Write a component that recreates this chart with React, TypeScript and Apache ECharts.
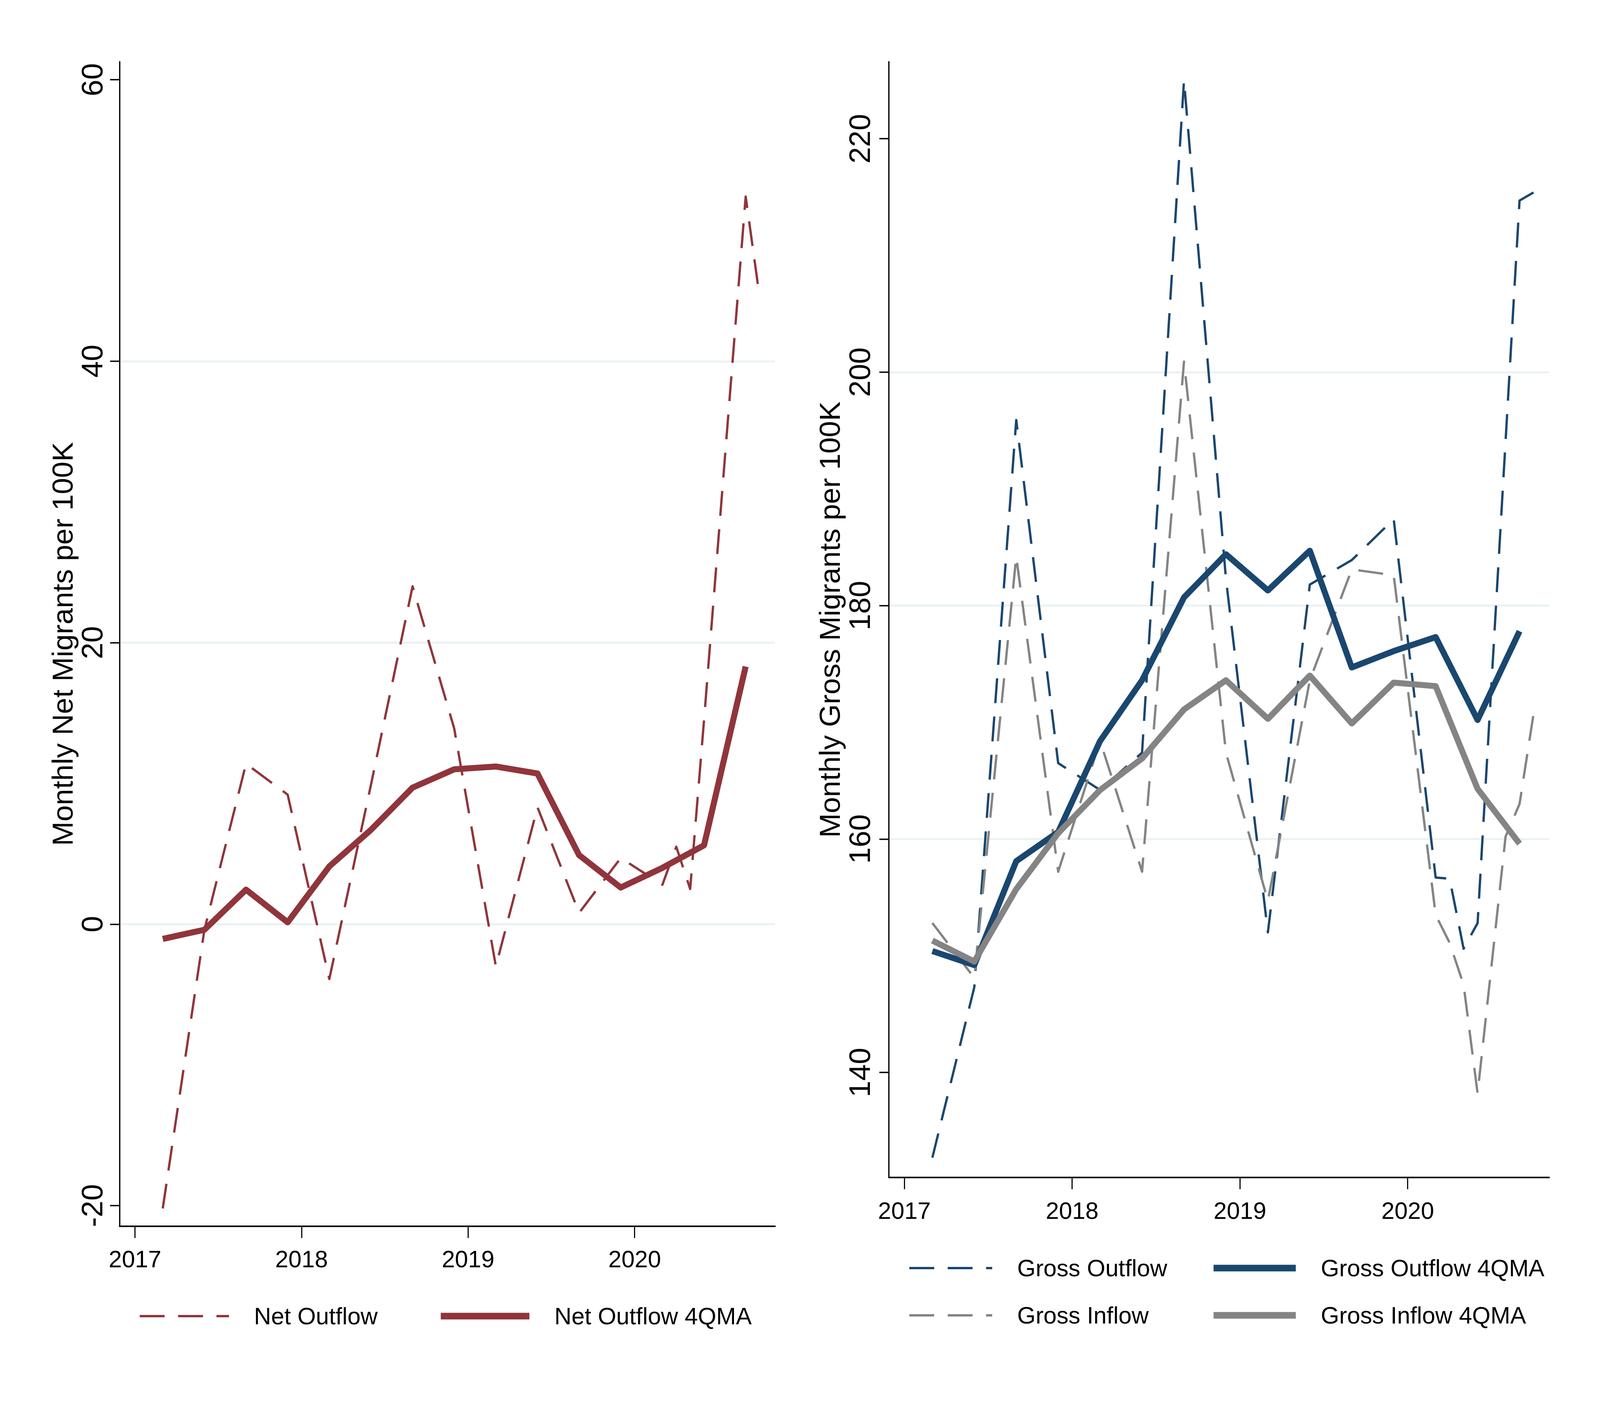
import React, { useEffect, useRef } from "react";
import * as echarts from "echarts";

// ---------- data (dates as "YYYY-MM", month of observation) ----------
const Q_DATES = [
  "2017-03", "2017-06", "2017-09", "2017-12",
  "2018-03", "2018-06", "2018-09", "2018-12",
  "2019-03", "2019-06", "2019-09", "2019-12",
];

const NET_DATES = [...Q_DATES, "2020-03", "2020-04", "2020-05", "2020-06", "2020-09", "2020-10"];
const NET_OUTFLOW = [-20.2, -0.4, 11.4, 9.2, -3.9, 9.9, 24.0, 13.9, -3.0, 8.3, 0.8, 4.7, 2.8, 5.5, 2.5, 14.5, 51.7, 44.6];

const NET_MA_DATES = [...Q_DATES, "2020-03", "2020-06", "2020-09"];
const NET_OUTFLOW_4QMA = [-1.05, -0.4, 2.45, 0.13, 4.1, 6.7, 9.7, 11.0, 11.2, 10.7, 4.9, 2.6, 4.0, 5.6, 18.3];

const GOUT_DATES = [...Q_DATES, "2020-03", "2020-04", "2020-05", "2020-06", "2020-09", "2020-10"];
const GROSS_OUTFLOW = [132.7, 147.3, 195.9, 166.5, 164.2, 167.4, 225.0, 182.3, 152.0, 181.8, 183.9, 187.4, 156.7, 156.6, 150.6, 152.8, 214.7, 215.4];

const GIN_DATES = [...Q_DATES, "2020-03", "2020-04", "2020-05", "2020-06", "2020-08", "2020-09", "2020-10"];
const GROSS_INFLOW = [152.8, 148.1, 184.2, 157.2, 168.4, 157.2, 200.9, 167.4, 154.7, 173.6, 183.1, 182.6, 153.5, 151.1, 147.5, 138.2, 160.2, 163.0, 170.7];

const GROSS_MA_DATES = [...Q_DATES, "2020-03", "2020-06", "2020-09"];
const GROSS_OUTFLOW_4QMA = [150.4, 149.2, 158.1, 160.6, 168.4, 173.6, 180.7, 184.4, 181.3, 184.7, 174.7, 176.1, 177.3, 170.2, 177.8];
const GROSS_INFLOW_4QMA = [151.3, 149.5, 155.7, 160.5, 164.2, 166.9, 171.1, 173.6, 170.3, 174.0, 169.9, 173.4, 173.1, 164.3, 159.6];

const YEAR_TICKS = [2017, 2018, 2019, 2020];
const NET_TICKS = [-20, 0, 20, 40, 60];
const GROSS_TICKS = [140, 160, 180, 200, 220];

// ---------- helpers ----------
const toYear = (d: string) => {
  const [y, m] = d.split("-").map(Number);
  return y + (m - 1) / 12;
};
const pairs = (dates: string[], vals: number[]) => dates.map((d, i) => [toYear(d), vals[i]]);

const FONT = "'Liberation Sans', Arial, Helvetica, sans-serif";
const MAROON = "#90353b";
const NAVY = "#1a476f";
const GRAY = "#848484";
const GRID_COLOR = "#eaf2f3";

const X_MIN = 2016.908;
const X_MAX = 2020.843;

// layout is designed on a 5000 x 3636 canvas; kx / ky map it onto the real container
function buildOption(kx: number, ky: number) {
  const px = (v: number) => v * kx; // horizontal distances
  const py = (v: number) => v * ky; // vertical distances
  const km = (kx + ky) / 2;
  const pm = (v: number) => v * km; // line widths, dashes
  const DASH = [pm(70), pm(38)];
  const FSH = 74 * kx; // horizontal text
  const FS_TICK_V = 76 * ky; // rotated tick labels
  const FS_NAME_V = 75 * ky; // rotated axis titles

  const xAxisFor = (gridIndex: number, labelCenter: number) => ({
    type: "value",
    gridIndex,
    min: X_MIN,
    max: X_MAX,
    axisLine: { show: true, onZero: false, lineStyle: { color: "#000", width: py(4) } },
    axisTick: { show: true, length: py(30), customValues: YEAR_TICKS, lineStyle: { color: "#000", width: px(3.5) } },
    axisLabel: {
      show: true,
      customValues: YEAR_TICKS,
      margin: py(labelCenter) - FSH / 2,
      fontSize: FSH,
      color: "#000",
      fontFamily: FONT,
      formatter: (v: number) => String(Math.round(v)),
    },
    splitLine: { show: false },
  });

  const yAxisFor = (
    gridIndex: number,
    min: number,
    max: number,
    ticks: number[],
    name: string,
    labelCenter: number,
    nameCenter: number
  ) => ({
    type: "value",
    gridIndex,
    min,
    max,
    name,
    nameLocation: "middle",
    nameRotate: 90,
    nameGap: px(nameCenter) - FS_NAME_V / 2,
    nameTextStyle: { fontSize: FS_NAME_V, color: "#000", fontFamily: FONT },
    axisLine: { show: true, onZero: false, lineStyle: { color: "#000", width: px(4) } },
    axisTick: { show: true, length: px(30), customValues: ticks, lineStyle: { color: "#000", width: py(3.5) } },
    axisLabel: {
      show: true,
      customValues: ticks,
      rotate: 90,
      margin: px(labelCenter) - FS_TICK_V / 2,
      fontSize: FS_TICK_V,
      color: "#000",
      fontFamily: FONT,
    },
    splitLine: {
      show: true,
      showMinLine: false,
      showMaxLine: false,
      lineStyle: { color: GRID_COLOR, width: py(5) },
    },
  });

  const lineSeries = (name: string, data: number[][], idx: number, color: string, dashed: boolean) => ({
    type: "line",
    name,
    xAxisIndex: idx,
    yAxisIndex: idx,
    data,
    symbol: "none",
    showSymbol: false,
    silent: true,
    lineStyle: {
      color,
      width: dashed ? pm(6.5) : pm(17),
      type: dashed ? DASH : "solid",
      join: "round",
      cap: "butt",
    },
    itemStyle: { color },
    emphasis: { disabled: true },
  });

  const legendItem = (name: string, left: number, centerY: number, iconW: number, color: string, dashed: boolean) => ({
    show: true,
    data: [
      {
        name,
        itemStyle: { opacity: 0 },
        lineStyle: {
          color,
          width: dashed ? py(6) : py(17),
          type: dashed ? DASH : "solid",
          cap: "butt",
        },
      },
    ],
    left: px(left),
    top: py(centerY) - 40 * kx,
    orient: "horizontal",
    padding: 0,
    itemGap: 0,
    itemWidth: px(iconW),
    itemHeight: 2,
    selectedMode: false,
    textStyle: {
      fontSize: FSH,
      color: "#000",
      fontFamily: FONT,
      lineHeight: 80 * kx,
      padding: [0, 0, 0, px(72)],
    },
  });

  return {
    animation: false,
    backgroundColor: "#ffffff",
    textStyle: { fontFamily: FONT },
    grid: [
      { left: px(374), top: py(158), width: px(2048), height: py(2982), containLabel: false },
      { left: px(2778), top: py(158), width: px(2063), height: py(2857), containLabel: false },
    ],
    xAxis: [xAxisFor(0, 83.5), xAxisFor(1, 85)],
    yAxis: [
      yAxisFor(0, -21.47, 61.28, NET_TICKS, "Monthly Net Migrants per 100K", 86, 167),
      yAxisFor(1, 131.0, 226.6, GROSS_TICKS, "Monthly Gross Migrants per 100K", 91.5, 154.5),
    ],
    legend: [
      legendItem("Net Outflow", 433, 3370, 279, MAROON, true),
      legendItem("Net Outflow 4QMA", 1367, 3370, 277, MAROON, false),
      legendItem("Gross Outflow", 2838, 3247, 259, NAVY, true),
      legendItem("Gross Outflow 4QMA", 3782, 3247, 257, NAVY, false),
      legendItem("Gross Inflow", 2838, 3368, 259, GRAY, true),
      legendItem("Gross Inflow 4QMA", 3782, 3368, 257, GRAY, false),
    ],
    series: [
      lineSeries("Net Outflow", pairs(NET_DATES, NET_OUTFLOW), 0, MAROON, true),
      lineSeries("Net Outflow 4QMA", pairs(NET_MA_DATES, NET_OUTFLOW_4QMA), 0, MAROON, false),
      lineSeries("Gross Outflow", pairs(GOUT_DATES, GROSS_OUTFLOW), 1, NAVY, true),
      lineSeries("Gross Inflow", pairs(GIN_DATES, GROSS_INFLOW), 1, GRAY, true),
      lineSeries("Gross Outflow 4QMA", pairs(GROSS_MA_DATES, GROSS_OUTFLOW_4QMA), 1, NAVY, false),
      lineSeries("Gross Inflow 4QMA", pairs(GROSS_MA_DATES, GROSS_INFLOW_4QMA), 1, GRAY, false),
    ],
  };
}

export default function App() {
  const ref = useRef<HTMLDivElement>(null);
  useEffect(() => {
    const el = ref.current;
    if (!el) return;
    const w = el.clientWidth || window.innerWidth || 5000;
    const h = el.clientHeight || window.innerHeight || 3636;
    const kx = w / 5000;
    const ky = h / 3636;
    const chart = echarts.init(el, null, { renderer: "svg" });
    chart.setOption(buildOption(kx, ky) as any);
    return () => chart.dispose();
  }, []);
  return (
    <div
      ref={ref}
      style={{ position: "fixed", left: 0, top: 0, width: "100vw", height: "100vh", background: "#ffffff" }}
    />
  );
}
